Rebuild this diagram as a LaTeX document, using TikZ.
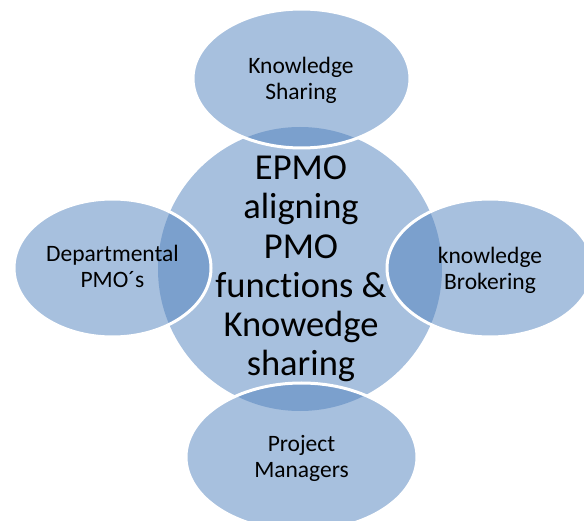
\documentclass[tikz,border=0pt]{standalone}
\usepackage{fontspec}
\setmainfont{Carlito}[Ligatures=NoCommon]
\usepackage{tikz}
\usetikzlibrary{positioning}
\definecolor{vennlight}{HTML}{A7C0DE}
\definecolor{venndark}{HTML}{7BA0CD}
\tikzset{small label/.style={align=center,inner sep=0pt,font=\fontsize{23.5}{26}\selectfont},
	big label/.style={align=center,inner sep=0pt,font=\fontsize{36.5}{39.3}\selectfont},
	white ring/.style={draw=white,line width=3pt}}

\begin{document}
\begin{tikzpicture}[x=1pt,y=-1pt]
			\useasboundingbox (0,0) rectangle (584,521);
			\fill[vennlight] (300,269) circle [radius=142];
			\foreach \x/\y/\a/\b in {301.5/78.5/108.5/69.5,112.5/268/98.5/69,490/268/103/69,301.5/457/115.5/74}
				\fill[vennlight] (\x,\y) ellipse [x radius=\a,y radius=\b];
			\begin{scope}
				\clip (300,269) circle [radius=142];
				\foreach \x/\y/\a/\b in {301.5/78.5/108.5/69.5,112.5/268/98.5/69,490/268/103/69,301.5/457/115.5/74}
					\fill[venndark] (\x,\y) ellipse [x radius=\a,y radius=\b];
			\end{scope}
			\foreach \x/\y/\a/\b in {301.5/78.5/108.5/69.5,112.5/268/98.5/69,490/268/103/69,301.5/457/115.5/74}
				\draw[white ring] (\x,\y) ellipse [x radius=\a,y radius=\b];
			\node[big label] (epmo) at (301,269) {EPMO\\aligning\\PMO\\functions \&\\Knowedge\\sharing};
			\node[small label] (sharing) at (301,80) {Knowledge\\Sharing};
			\node[small label] (deptpmo) at (112.5,266.5) {Departmental\\PMO´s};
			\node[small label] (brokering) at (490,270) {knowledge\\Brokering};
			\node[small label] (managers) at (301.5,458) {Project\\Managers};
		\end{tikzpicture}
\end{document}
